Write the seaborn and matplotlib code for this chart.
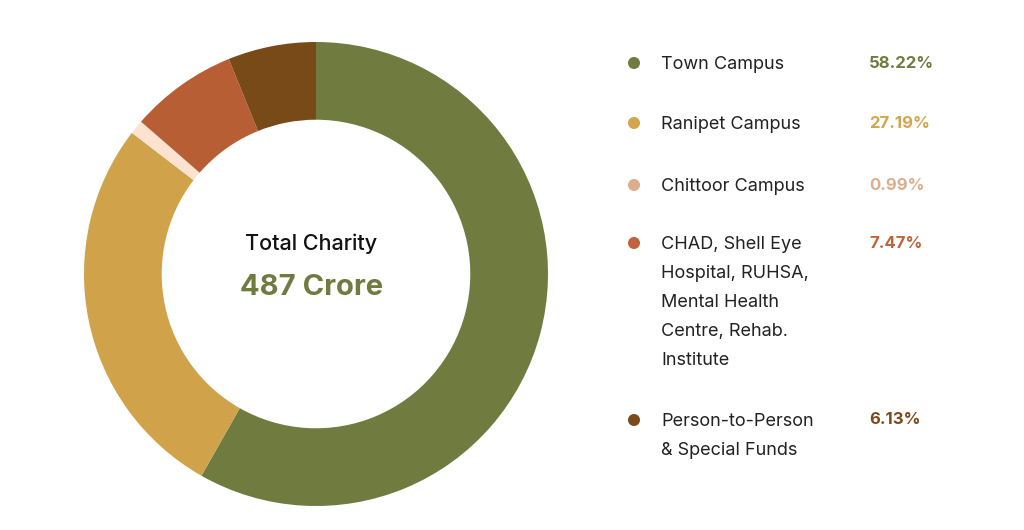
"""
Donut chart of total charity split by campus / unit
"""

import matplotlib
matplotlib.use('Agg')
import matplotlib.pyplot as plt
import seaborn as sns

# data
labels = ['Town Campus', 'Ranipet Campus', 'Chittoor Campus',
          'CHAD, Shell Eye\nHospital, RUHSA,\nMental Health\nCentre, Rehab.\nInstitute',
          'Person-to-Person\n& Special Funds']
shares = [58.22, 27.19, 0.99, 7.47, 6.13]
slice_colors = ['#6F7B3F', '#D0A24A', '#FDE2D0', '#B85E35', '#774A17']
dot_colors = ['#6F7B3F', '#D3A54C', '#DDAE8E', '#C0633A', '#7A4A1A']
center_title = 'Total Charity'
center_value = '487 Crore'

sns.set_theme(style='white')
plt.rcParams['font.family'] = ['Inter', 'DejaVu Sans']

W, H = 1024, 530
fig = plt.figure(figsize=(W / 100, H / 100), dpi=100)
fig.patch.set_facecolor('white')

# donut: centre ~(316, 274) px, outer radius ~232 px
cx, cy, r = 316, 274, 232
ax = fig.add_axes([(cx - r) / W, (H - cy - r) / H, 2 * r / W, 2 * r / H])
ax.pie(shares, colors=slice_colors, startangle=90, counterclock=False,
       radius=1.0, wedgeprops=dict(width=0.335, edgecolor='none'))
ax.set_aspect('equal')
ax.set_xlim(-1, 1)
ax.set_ylim(-1, 1)
ax.text(-0.02, 0.13, center_title, ha='center', va='center',
        fontsize=15.5, fontweight='medium', color='#111111')
ax.text(-0.02, -0.06, center_value, ha='center', va='center',
        fontsize=21, fontweight='bold', color='#6F7B3F')

# legend on the right, laid out in pixel coordinates
lax = fig.add_axes([0, 0, 1, 1])
lax.set_xlim(0, W)
lax.set_ylim(H, 0)
lax.axis('off')

row_y = [63, 123, 185, 243, 420]
for lab, val, col, y in zip(labels, shares, dot_colors, row_y):
    lax.scatter([634], [y], s=75, color=col, edgecolor='none')
    lax.text(661, y - 7, lab, ha='left', va='top', fontsize=13,
             color='#222222', linespacing=1.92)
    lax.text(869, y, f'{val:.2f}%', ha='left', va='center', fontsize=12,
             fontweight='bold', color=col)

fig.savefig('out.png', dpi=100)
